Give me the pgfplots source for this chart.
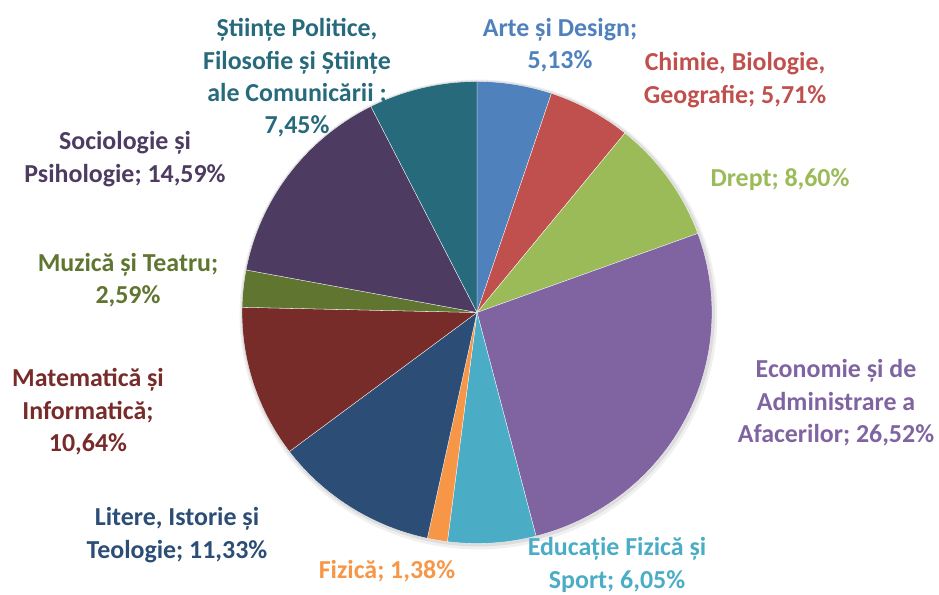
\documentclass[border=0pt]{standalone}
\usepackage{pgfplots}
\pgfplotsset{compat=1.18}
\usepackage{fontspec}
\setmainfont{Carlito}
\definecolor{cArte}{HTML}{4F81BD}
\definecolor{cChimie}{HTML}{C0504D}
\definecolor{cDrept}{HTML}{9BBB59}
\definecolor{cEcon}{HTML}{8064A2}
\definecolor{cEduc}{HTML}{4BACC6}
\definecolor{cFiz}{HTML}{F79646}
\definecolor{cLit}{HTML}{2C4D75}
\definecolor{cMat}{HTML}{772C2A}
\definecolor{cMuz}{HTML}{5F7530}
\definecolor{cSoc}{HTML}{4D3B62}
\definecolor{cPol}{HTML}{276A7C}
% #1 cumulative share before the slice, #2 share (%), #3 colour
\newcommand{\slice}[3]{%
  \pgfmathsetmacro\ta{90-3.6*(#1+#2)}%
  \pgfmathsetmacro\tb{90-3.6*(#1)}%
  \edef\doslice{\noexpand\addplot[fill=#3, draw=white, line width=0.3pt, domain=\ta:\tb, samples=90, variable=\noexpand\t]
    ({477+235*cos(\noexpand\t)},{282.5+231*sin(\noexpand\t)}) -- (axis cs:477,282.5) -- cycle;}%
  \doslice}
\tikzset{lab/.style={font=\fontsize{26}{32.5}\selectfont\bfseries, align=center, inner sep=0pt}}
\begin{document}
\begin{tikzpicture}
\begin{axis}[width=939bp, height=595bp, scale only axis, xmin=0, xmax=939, ymin=0, ymax=595,
  hide axis, clip=false]
\addplot[draw=none, forget plot] coordinates {(0,0) (939,595)};
% soft shadow of the pie
\addplot[draw=none, fill=black, opacity=0.06, domain=0:360, samples=120, variable=\t]
  ({478.5+239*cos(t)},{280.5+235*sin(t)}) -- cycle;
\addplot[draw=none, fill=black, opacity=0.08, domain=0:360, samples=120, variable=\t]
  ({478+237*cos(t)},{281.5+233*sin(t)}) -- cycle;
\slice{0}{5.13}{cArte}
\slice{5.13}{5.71}{cChimie}
\slice{10.84}{8.60}{cDrept}
\slice{19.44}{26.52}{cEcon}
\slice{45.96}{6.05}{cEduc}
\slice{52.01}{1.38}{cFiz}
\slice{53.39}{11.33}{cLit}
\slice{64.72}{10.64}{cMat}
\slice{75.36}{2.59}{cMuz}
\slice{77.95}{14.59}{cSoc}
\slice{92.54}{7.46}{cPol}
\node[lab, text=cArte] at (axis cs:560,550) {Arte și Design;\\5,13\%};
\node[lab, text=cChimie] at (axis cs:735,515) {Chimie, Biologie,\\Geografie; 5,71\%};
\node[lab, text=cDrept] at (axis cs:780,415) {Drept; 8,60\%};
\node[lab, text=cEcon] at (axis cs:836,192) {Economie și de\\Administrare a\\Afacerilor; 26,52\%};
\node[lab, text=cEduc] at (axis cs:617,30) {Educație Fizică și\\Sport; 6,05\%};
\node[lab, text=cFiz] at (axis cs:387,24) {Fizică; 1,38\%};
\node[lab, text=cLit] at (axis cs:177,60) {Litere, Istorie și\\Teologie; 11,33\%};
\node[lab, text=cMat] at (axis cs:88,183) {Matematică și\\Informatică;\\10,64\%};
\node[lab, text=cMuz] at (axis cs:128,315) {Muzică și Teatru;\\2,59\%};
\node[lab, text=cSoc] at (axis cs:125,436) {Sociologie și\\Psihologie; 14,59\%};
\node[lab, text=cPol] at (axis cs:297,517) {Științe Politice,\\Filosofie și Științe\\ale Comunicării ;\\7,45\%};
\end{axis}
\end{tikzpicture}
\end{document}
